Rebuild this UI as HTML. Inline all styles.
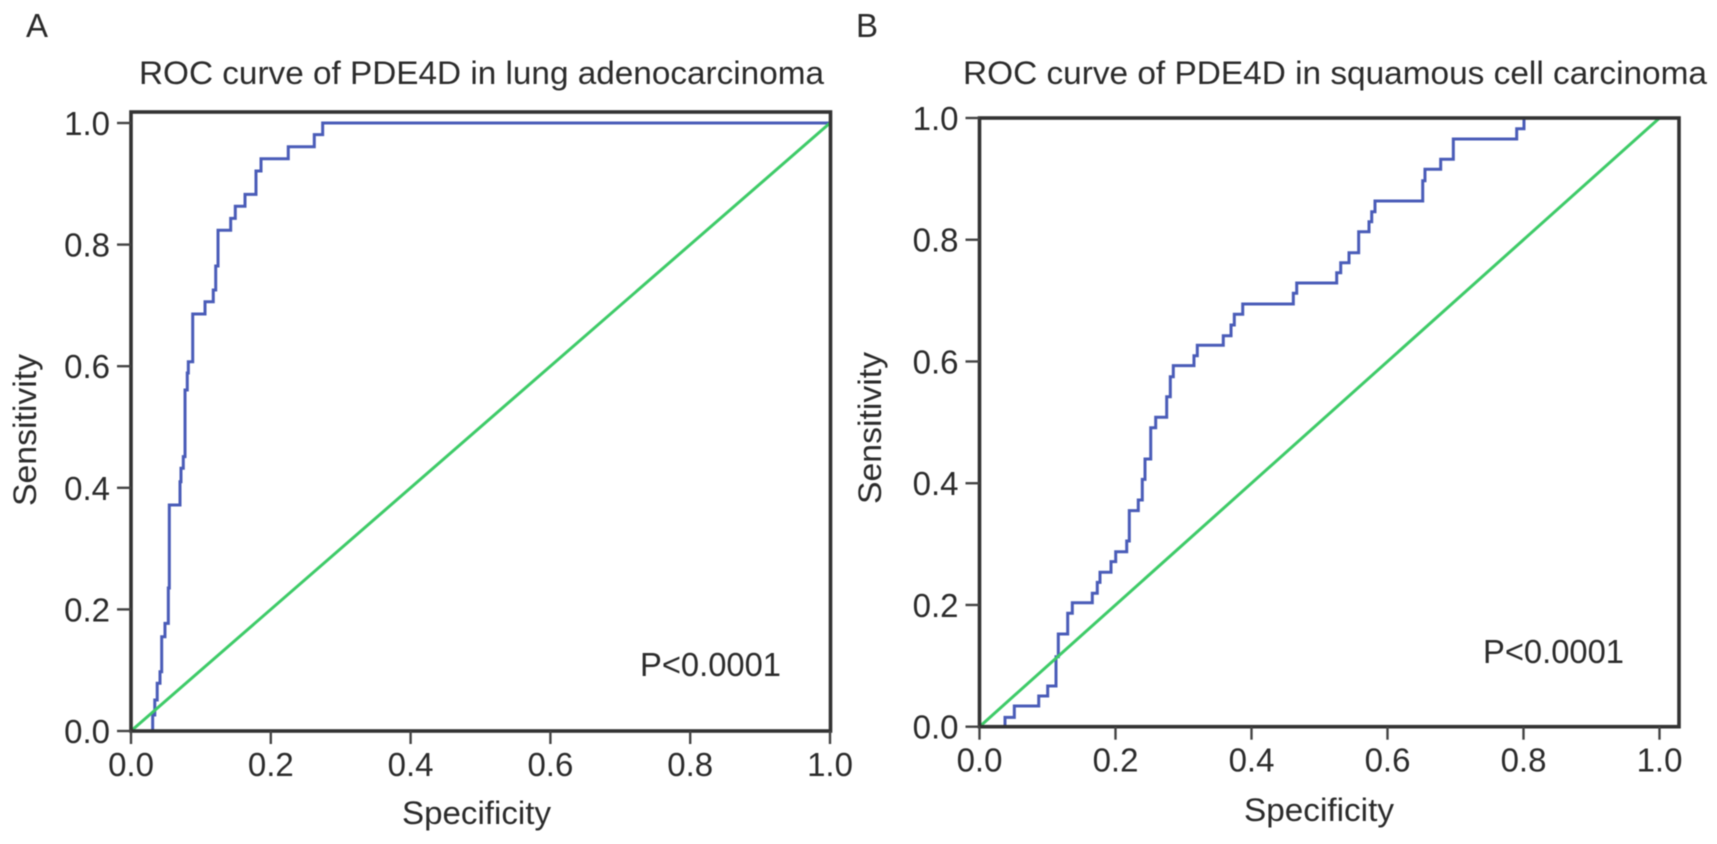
<!DOCTYPE html>
<html lang="en">
<head>
<meta charset="utf-8">
<title>ROC curves of PDE4D</title>
<style>
html,body{margin:0;padding:0;background:#fff;width:1717px;height:844px;overflow:hidden}
svg{display:block;filter:blur(.45px)}
text{font-family:"Liberation Sans",Arial,sans-serif;fill:#2b2b2b}
</style>
</head>
<body>
<svg id="figure" xmlns="http://www.w3.org/2000/svg" width="1717" height="844" viewBox="0 0 1717 844">
  <rect width="1717" height="844" fill="#fff"/>
  <g id="panel-a">
    <text x="26" y="37" font-size="33">A</text>
    <text x="139" y="84" font-size="32" textLength="685" lengthAdjust="spacingAndGlyphs">ROC curve of PDE4D in lung adenocarcinoma</text>
    <text x="402" y="824" font-size="32" textLength="149" lengthAdjust="spacingAndGlyphs">Specificity</text>
    <text transform="translate(36,506) rotate(-90)" font-size="32" textLength="152" lengthAdjust="spacingAndGlyphs">Sensitivity</text>
    <text x="640" y="676" font-size="33" textLength="141" lengthAdjust="spacingAndGlyphs">P&lt;0.0001</text>
  </g>
  <g id="panel-b">
    <text x="856" y="37" font-size="33">B</text>
    <text x="963" y="84" font-size="32" textLength="744" lengthAdjust="spacingAndGlyphs">ROC curve of PDE4D in squamous cell carcinoma</text>
    <text x="1244" y="821" font-size="32" textLength="150" lengthAdjust="spacingAndGlyphs">Specificity</text>
    <text transform="translate(881,504) rotate(-90)" font-size="32" textLength="152" lengthAdjust="spacingAndGlyphs">Sensitivity</text>
    <text x="1483" y="663" font-size="33" textLength="141" lengthAdjust="spacingAndGlyphs">P&lt;0.0001</text>
  </g>
</svg>
<script>
// Tick values shared by both axes of both panels
var tickValues = [0, 0.2, 0.4, 0.6, 0.8, 1];
var tickLabels = ["0.0", "0.2", "0.4", "0.6", "0.8", "1.0"];

// Panel A: each step rises at specificity[i] up to sensitivity[i]
var specificityA = [0.031,0.034,0.0375,0.0415,0.0439,0.0486,0.0534,0.0548,0.0701,0.0715,0.0748,0.0773,0.0805,0.082,0.0883,0.1059,0.1177,0.1212,0.1245,0.1426,0.1492,0.1631,0.1788,0.186,0.225,0.2622,0.2742];
var sensitivityA = [0.0263,0.051,0.0785,0.0975,0.1551,0.1771,0.2352,0.3717,0.41,0.4321,0.4512,0.5609,0.5888,0.6074,0.6859,0.7061,0.7253,0.7648,0.8235,0.8432,0.863,0.8827,0.9211,0.9413,0.961,0.9808,1];

// Panel B: each step rises at specificity[i] up to sensitivity[i]
var specificityB = [0.0375,0.0512,0.0871,0.1003,0.1125,0.1159,0.1297,0.1365,0.1659,0.1732,0.1772,0.1934,0.2003,0.2165,0.2203,0.2335,0.2394,0.2434,0.2518,0.2591,0.2753,0.2806,0.285,0.3154,0.3203,0.3585,0.3699,0.3747,0.3871,0.4615,0.4665,0.5253,0.5312,0.5434,0.5576,0.5728,0.5768,0.5816,0.6518,0.6551,0.6782,0.6968,0.79,0.8007];
var sensitivityB = [0.0154,0.034,0.0504,0.0669,0.115,0.1523,0.1863,0.2037,0.2192,0.2372,0.2537,0.2711,0.2875,0.3051,0.3549,0.3724,0.4064,0.4398,0.4912,0.5083,0.5421,0.575,0.5931,0.6095,0.6266,0.6423,0.6599,0.6775,0.6944,0.712,0.7289,0.7458,0.7623,0.7787,0.8132,0.8296,0.846,0.8636,0.897,0.9157,0.9322,0.9655,0.9824,1];

var SVGNS = "http://www.w3.org/2000/svg";

function make(parent, tag, attrs) {
  var el = document.createElementNS(SVGNS, tag);
  for (var k in attrs) el.setAttribute(k, attrs[k]);
  parent.appendChild(el);
  return el;
}

function drawPanel(parentId, prefix, frame, specificity, sensitivity) {
  var parent = document.getElementById(parentId);
  var sx = function (v) { return frame.x0 + v * frame.xUnit; };
  var sy = function (v) { return frame.y0 - v * frame.yUnit; };

  // ROC step curve
  var d = "M" + sx(specificity[0]).toFixed(2) + " " + sy(0).toFixed(2);
  for (var i = 0; i < specificity.length; i++) {
    var next = i + 1 < specificity.length ? specificity[i + 1] : 1;
    d += "V" + sy(sensitivity[i]).toFixed(2) + "H" + sx(next).toFixed(2);
  }
  var curve = make(parent, "path", {d: d, fill: "none", stroke: "#4a5cb8", "stroke-width": 3, "stroke-linejoin": "miter"});
  
  

  // Reference diagonal
  var diag = make(parent, "line", {x1: sx(0), y1: sy(0), x2: sx(1), y2: sy(1), stroke: "#3ecb68", "stroke-width": 3});
  
  

  // Plot frame
  var box = make(parent, "rect", {x: frame.x0, y: frame.top, width: frame.right - frame.x0, height: frame.y0 - frame.top, fill: "none", stroke: "#333", "stroke-width": 3.6});
  
  

  // Ticks and tick labels
  tickValues.forEach(function (v, idx) {
    var xt = make(parent, "line", {x1: sx(v), y1: frame.y0, x2: sx(v), y2: frame.y0 + 13, stroke: "#444", "stroke-width": 2.4});
    
    

    var xl = make(parent, "text", {x: sx(v), y: frame.y0 + 45, "font-size": 33, "text-anchor": "middle"});
    xl.textContent = tickLabels[idx];
    
    

    var yt = make(parent, "line", {x1: frame.x0 - 14, y1: sy(v), x2: frame.x0, y2: sy(v), stroke: "#444", "stroke-width": 2.4});
    
    

    var yl = make(parent, "text", {x: frame.x0 - 21, y: sy(v) + 12, "font-size": 33, "text-anchor": "end"});
    yl.textContent = tickLabels[idx];
    
    
  });
}

drawPanel("panel-a", "panel-a", {x0: 131, xUnit: 699, right: 830.5, y0: 731, yUnit: 608, top: 112}, specificityA, sensitivityA);
drawPanel("panel-b", "panel-b", {x0: 979.5, xUnit: 680, right: 1679, y0: 726.7, yUnit: 608.7, top: 118}, specificityB, sensitivityB);
</script>
</body>
</html>
